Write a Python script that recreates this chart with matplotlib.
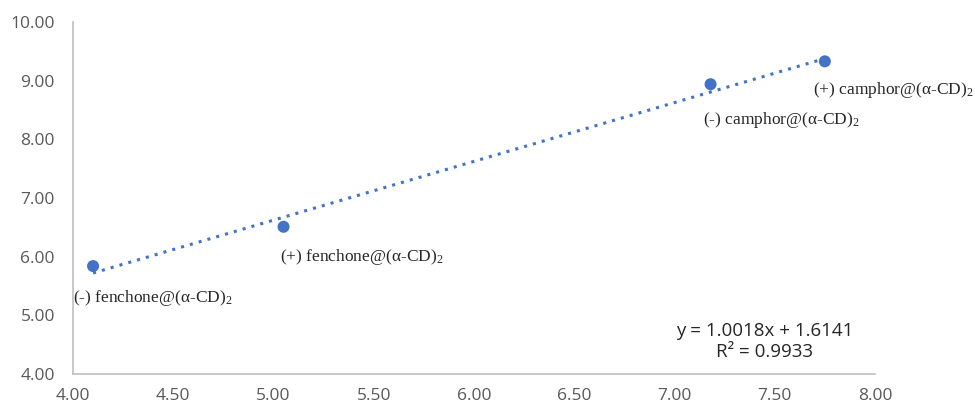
import matplotlib
matplotlib.use("Agg")
import matplotlib.pyplot as plt
import numpy as np

plt.rcParams["mathtext.fontset"] = "custom"
plt.rcParams["mathtext.rm"] = "Liberation Serif"
plt.rcParams["mathtext.it"] = "Liberation Serif:italic"
plt.rcParams["mathtext.bf"] = "Liberation Serif:bold"

x_vals = [4.10, 5.05, 7.18, 7.75]
y_vals = [5.84, 6.51, 8.94, 9.33]
labels = ["(-) fenchone@(α-CD)$_\\mathrm{2}$", "(+) fenchone@(α-CD)$_\\mathrm{2}$",
          "(-) camphor@(α-CD)$_\\mathrm{2}$", "(+) camphor@(α-CD)$_\\mathrm{2}$"]
label_offsets = [(-14.4, -23), (-2.9, -21.6), (-5.8, -25.9), (-8.6, -20.9)]
slope = 1.0018
intercept = 1.6141
r2 = 0.9933
xticks = [4.00, 4.50, 5.00, 5.50, 6.00, 6.50, 7.00, 7.50, 8.00]
yticks = [4.00, 5.00, 6.00, 7.00, 8.00, 9.00, 10.00]

blue = "#4472C4"
gray = "#595959"

fig = plt.figure(figsize=(9.75, 4.08), dpi=100)
ax = fig.add_axes([0.0749, 0.0833, 0.8225, 0.8627])

xs = np.array([min(x_vals), max(x_vals)])
ax.plot(xs, slope * xs + intercept, linestyle=(0, (1, 2.0)), color=blue, linewidth=2.2, zorder=2)
ax.scatter(x_vals, y_vals, s=75, color=blue, zorder=3, edgecolors="none")

for xv, yv, lab, off in zip(x_vals, y_vals, labels, label_offsets):
    ax.annotate(lab, (xv, yv), xytext=off, textcoords="offset points",
                fontsize=12.5, family="Liberation Serif", color="#262626",
                ha="left", va="center")

ax.text(0.862, 0.092, f"y = {slope:.4f}x + {intercept:.4f}\nR² = {r2:.4f}",
        transform=ax.transAxes, ha="center", va="center", fontsize=13.5,
        family="Open Sans", color="#262626", linespacing=1.2)

ax.set_xlim(4, 8)
ax.set_ylim(4, 10)
ax.set_xticks(xticks)
ax.set_yticks(yticks)
ax.set_xticklabels([f"{t:.2f}" for t in xticks])
ax.set_yticklabels([f"{t:.2f}" for t in yticks])
for lab in ax.get_xticklabels() + ax.get_yticklabels():
    lab.set_family("Open Sans")
    lab.set_fontsize(12.5)
    lab.set_color(gray)
ax.tick_params(axis="x", length=0, pad=10)
ax.tick_params(axis="y", length=0, pad=13)
for s in ["top", "right"]:
    ax.spines[s].set_visible(False)
for s in ["left", "bottom"]:
    ax.spines[s].set_color("#BFBFBF")
    ax.spines[s].set_linewidth(1.2)

fig.savefig("out.png", dpi=100)
